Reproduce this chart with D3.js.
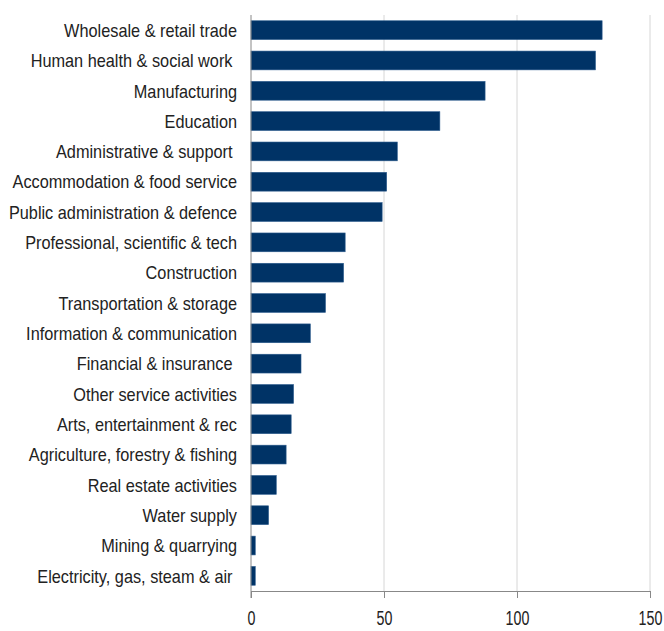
<!DOCTYPE html>
<html>
<head>
<meta charset="utf-8">
<script src="https://cdn.jsdelivr.net/npm/d3@7"></script>
<style>
  body { margin: 0; background: #fff; }
  text { font-family: "Liberation Sans", Arial, sans-serif; fill: #222; }
</style>
</head>
<body>
<svg id="chart" width="664" height="631"></svg>
<script>
const sectors = [
  "Wholesale & retail trade", "Human health & social work ", "Manufacturing", "Education",
  "Administrative & support ", "Accommodation & food service", "Public administration & defence",
  "Professional, scientific & tech", "Construction", "Transportation & storage",
  "Information & communication", "Financial & insurance ", "Other service activities",
  "Arts, entertainment & rec", "Agriculture, forestry & fishing", "Real estate activities",
  "Water supply", "Mining & quarrying", "Electricity, gas, steam & air "
];
const values = [132, 129.5, 88, 71, 55, 51, 49.3, 35.4, 34.8, 28, 22.3, 18.8, 16, 15.1, 13.2, 9.5, 6.6, 1.6, 1.6];
const xTicks = [0, 50, 100, 150];

const svg = d3.select("#chart");
const m = { left: 251, right: 14, top: 15, bottom: 40 };
const W = 664, H = 631;

const x = d3.scaleLinear().domain([0, 150]).range([m.left, W - m.right]);
const y = d3.scaleBand().domain(sectors).range([m.top, H - m.bottom]).paddingInner(0.38).paddingOuter(0.19);

// grid
svg.append("g").selectAll("line").data(xTicks.slice(1)).join("line")
  .attr("x1", d => x(d)).attr("x2", d => x(d))
  .attr("y1", m.top).attr("y2", H - m.bottom)
  .attr("stroke", "#d6d6d6").attr("stroke-width", 1);

// bars
svg.append("g").selectAll("rect").data(sectors).join("rect")
  .attr("x", x(0))
  .attr("y", d => y(d))
  .attr("width", (d, i) => x(values[i]) - x(0))
  .attr("height", y.bandwidth())
  .attr("fill", "#003366")
  .attr("stroke", "#2a5a8c").attr("stroke-width", 0.6);

// x axis
const xa = svg.append("g").attr("transform", `translate(0,${H - m.bottom})`)
  .call(d3.axisBottom(x).tickValues(xTicks).tickSize(7));
xa.select(".domain").attr("stroke", "#888");
xa.selectAll(".tick line").attr("stroke", "#888");
xa.selectAll(".tick text")
  .attr("y", 0).attr("dy", null)
  .attr("transform", "translate(0,34) scale(0.95,1.35)")
  .attr("font-size", 15)
  .style("font-family", "Liberation Sans, Arial, sans-serif")
  .attr("fill", "#222");

// y axis line
svg.append("line").attr("x1", x(0)).attr("x2", x(0))
  .attr("y1", m.top).attr("y2", H - m.bottom + 7)
  .attr("stroke", "#888");

// category labels
svg.append("g").selectAll("text").data(sectors).join("text")
  .attr("transform", d => `translate(${x(0) - 14},${y(d) + y.bandwidth() / 2}) scale(1,1.15)`)
  .attr("dy", "0.36em")
  .attr("text-anchor", "end")
  .attr("font-size", 16.3)
  .style("white-space", "pre")
  .text(d => d);
</script>
</body>
</html>
